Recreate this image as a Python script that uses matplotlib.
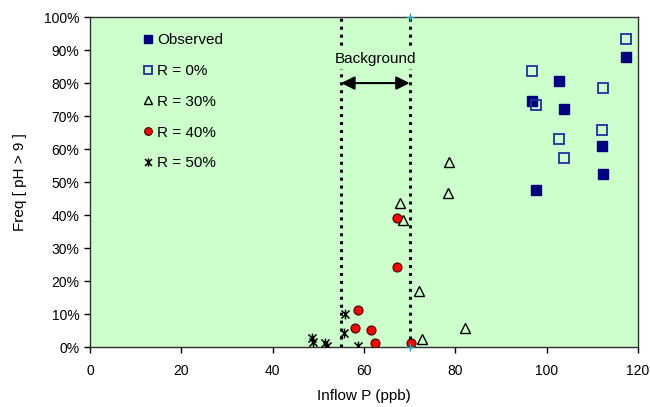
import numpy as np
import matplotlib.pyplot as plt
from matplotlib.path import Path
from matplotlib.ticker import FuncFormatter

plt.rcParams['font.family'] = ['Liberation Sans', 'DejaVu Sans']

# --------------------------
# data: inflow P (ppb) vs frequency of pH > 9 (%)
# --------------------------
obs_x = [117.4, 102.8, 96.8, 103.9, 112.2, 112.4, 97.6]
obs_y = [87.9, 80.6, 74.6, 72.2, 60.9, 52.3, 47.6]

r0_x = [117.4, 96.8, 97.6, 112.3, 112.2, 102.8, 103.9]
r0_y = [93.4, 83.7, 73.3, 78.6, 65.7, 62.9, 57.4]

r30_x = [78.6, 78.5, 67.8, 68.6, 72.1, 82.1, 72.8]
r30_y = [56.0, 46.6, 43.7, 38.5, 17.0, 5.7, 2.3]

r40_x = [67.2, 67.2, 58.6, 58.0, 61.6, 62.4, 70.3]
r40_y = [39.2, 24.1, 11.1, 5.7, 5.2, 1.1, 1.3]

r50_x = [55.8, 55.7, 58.7, 48.6, 48.8, 51.5, 51.8]
r50_y = [10.0, 4.3, 0.3, 2.8, 1.6, 1.3, 0.2]

bg_lo, bg_hi = 55, 70

# excel-style asterisk marker: an X plus a vertical bar
star = Path([(-1, -1), (1, 1), (-1, 1), (1, -1), (0, -1.2), (0, 1.2)],
            [Path.MOVETO, Path.LINETO] * 3)

fig = plt.figure(figsize=(6.5, 4.07), dpi=100)
ax = fig.add_axes([0.1385, 0.1474, 0.843, 0.8106])
ax.set_facecolor('#CCFFCC')

ax.plot(obs_x, obs_y, 's', ms=6.5, color='#000080', mec='#000080', label='Observed', zorder=4)
ax.plot(r0_x, r0_y, 's', ms=6.5, mfc='none', mec='#1F2F9F', mew=1.3, label='R = 0%', zorder=4)
ax.plot(r30_x, r30_y, '^', ms=7, mfc='none', mec='black', mew=1.0, label='R = 30%', zorder=4)
ax.plot(r40_x, r40_y, 'o', ms=6.5, color='red', mec='#400000', mew=0.8, label='R = 40%', zorder=4)
ax.plot(r50_x, r50_y, ls='none', marker=star, ms=7, mfc='none', mec='black', mew=1.1,
        label='R = 50%', zorder=4)

# background range
for xv in (bg_lo, bg_hi):
    ax.plot([xv, xv], [0, 100], color='black', lw=2.2, ls=(0, (1, 1.6)), zorder=2)
ax.plot([bg_hi, bg_hi], [0, 100], ls='none', marker='+', ms=6, color='#2AA0A8', zorder=5,
        clip_on=False)
ax.annotate('', xy=(bg_lo, 80), xytext=(bg_hi, 80),
            arrowprops=dict(arrowstyle='<|-|>', color='black', lw=1.5, mutation_scale=20,
                            shrinkA=0, shrinkB=0))
ax.text((bg_lo + bg_hi) / 2, 87.2, 'Background', ha='center', va='center', fontsize=11,
        bbox=dict(boxstyle='square,pad=0.15', fc='#CCFFCC', ec='none'), zorder=3)

ax.set_xlim(0, 120)
ax.set_ylim(0, 100)
ax.set_xticks(np.arange(0, 121, 20))
ax.set_yticks(np.arange(0, 101, 10))
ax.yaxis.set_major_formatter(FuncFormatter(lambda v, _: f'{v:.0f}%'))
ax.tick_params(direction='out', length=4, width=1, labelsize=10, colors='black')
ax.tick_params(axis='x', pad=8)
for s in ax.spines.values():
    s.set_color('#303030')
    s.set_linewidth(1.0)

ax.set_xlabel('Inflow P (ppb)', fontsize=11, labelpad=8)
ax.set_ylabel('Freq [ pH > 9 ]', fontsize=11, labelpad=12)

ax.legend(loc='upper left', bbox_to_anchor=(0.084, 0.97), frameon=False, fontsize=11,
          handlelength=0.7, handletextpad=0.3, labelspacing=1.1, borderaxespad=0,
          markerscale=0.85)

fig.savefig('out.png', dpi=100)
